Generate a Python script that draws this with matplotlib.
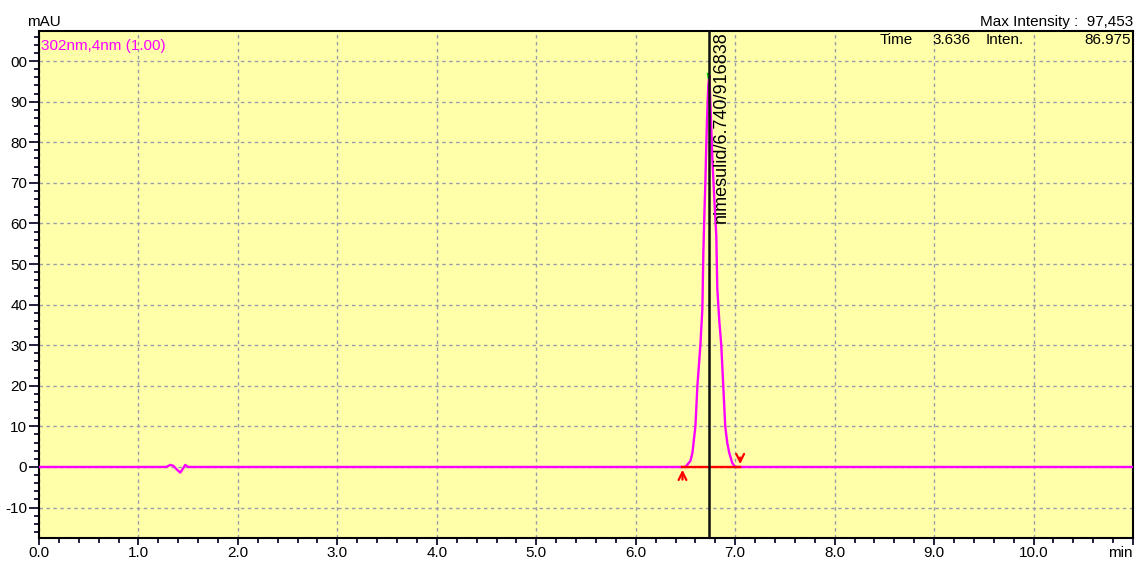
import matplotlib.pyplot as plt
from matplotlib.ticker import MultipleLocator

plt.rcParams['font.family'] = ['Liberation Sans', 'DejaVu Sans']

# detector trace, 302 nm
time = [0.00, 1.28, 1.32, 1.35, 1.38, 1.42, 1.45, 1.47, 1.50,
        6.45, 6.50, 6.55, 6.57, 6.60, 6.62, 6.65, 6.67, 6.68, 6.69, 6.70,
        6.71, 6.72, 6.73, 6.74, 6.75, 6.77, 6.79, 6.81, 6.82, 6.84, 6.86,
        6.88, 6.90, 6.92, 6.94, 6.97, 7.00, 7.05, 11.00]
signal = [0.0, 0.0, 0.5, 0.3, -0.5, -1.4, -0.3, 0.5, 0.0,
          0.0, 0.0, 1.5, 3.5, 10.0, 20.0, 30.0, 39.0, 53.0, 62.0, 70.0,
          80.0, 88.0, 94.0, 96.5, 90.0, 76.0, 66.0, 57.0, 44.0, 36.0, 30.0,
          20.0, 10.0, 6.0, 3.5, 1.0, 0.0, 0.0, 0.0]

peak_name = 'nimesulid'
peak_rt = 6.740
peak_area = 916838
peak_start = 6.47
peak_end = 7.05
apex = 96.5

x_ticks = [0, 1, 2, 3, 4, 5, 6, 7, 8, 9, 10, 11]
x_labels = ['0.0', '1.0', '2.0', '3.0', '4.0', '5.0', '6.0', '7.0', '8.0', '9.0', '10.0', 'min']
y_ticks = [-10, 0, 10, 20, 30, 40, 50, 60, 70, 80, 90, 100]
y_labels = ['-10', '0', '10', '20', '30', '40', '50', '60', '70', '80', '90', '00']

fig = plt.figure(figsize=(11.38, 5.62), dpi=100)
ax = fig.add_axes([0.0343, 1 - 538 / 562, 0.9613, (538 - 31) / 562])
ax.set_facecolor('#FFFFAA')
ax.set_xlim(0, 11)
ax.set_ylim(-17.5, 107.4)

ax.grid(True, color='#9A9CAA', linestyle=(0, (2.5, 2.5)), linewidth=1)
ax.set_axisbelow(True)

ax.plot(time, signal, color='#FF00FF', linewidth=1.7, zorder=3)
ax.plot([peak_rt - 0.01, peak_rt - 0.005], [apex + 0.3, apex - 0.5], color='#00CC00', linewidth=2, zorder=4)

# integration baseline and start/end markers
ax.plot([peak_start, peak_end], [0, 0], color='#FF0000', linewidth=1.7, zorder=4)
ax.annotate('', xy=(peak_start, 0), xytext=(peak_start, -3.8),
            arrowprops=dict(arrowstyle='->', color='#FF0000', lw=1.6, mutation_scale=14), zorder=5)
ax.annotate('', xy=(peak_end, 0), xytext=(peak_end, 3.0),
            arrowprops=dict(arrowstyle='->', color='#FF0000', lw=1.6, mutation_scale=14), zorder=5)

ax.axvline(peak_rt, color='#101010', linewidth=1.8, zorder=4)
ax.text(peak_rt + 0.03, 107.4, f'{peak_name}/{peak_rt:.3f}/{peak_area}', rotation=90,
        ha='left', va='top', fontsize=13, color='black', zorder=6)

ax.set_xticks(x_ticks)
ax.set_xticklabels(x_labels)
ax.get_xticklabels()[-1].set_horizontalalignment('right')
ax.set_yticks(y_ticks)
ax.set_yticklabels(y_labels)
ax.xaxis.set_minor_locator(MultipleLocator(0.2))
ax.yaxis.set_minor_locator(MultipleLocator(2))
ax.tick_params(axis='y', which='major', direction='out', length=7, width=1.3,
               color='#101030', labelsize=11, pad=1.5)
ax.tick_params(axis='x', which='major', direction='out', length=5, width=1.3,
               color='#101030', labelsize=11, pad=1)
ax.tick_params(axis='both', which='minor', direction='out', length=3.5, width=1.3, color='#101030')
for s in ax.spines.values():
    s.set_linewidth(1.5)
    s.set_color('black')

ax.text(0.002, 0.985, '302nm,4nm (1.00)', transform=ax.transAxes, color='#FF00FF',
        fontsize=11, ha='left', va='top')
fig.text(27 / 1138, 1 - 22 / 562, 'mAU', fontsize=11, ha='left', va='center')
fig.text(1133 / 1138, 1 - 22 / 562, 'Max Intensity :  97,453', fontsize=11, ha='right', va='center')
hy = 1 - 40 / 562
fig.text(913 / 1138, hy, 'Time', fontsize=11, ha='right', va='center')
fig.text(932 / 1138, hy, '3.636', fontsize=11, ha='left', va='center')
fig.text(986 / 1138, hy, 'Inten.', fontsize=11, ha='left', va='center')
fig.text(1131 / 1138, hy, '86.975', fontsize=11, ha='right', va='center')

fig.savefig('out.png', dpi=100)
